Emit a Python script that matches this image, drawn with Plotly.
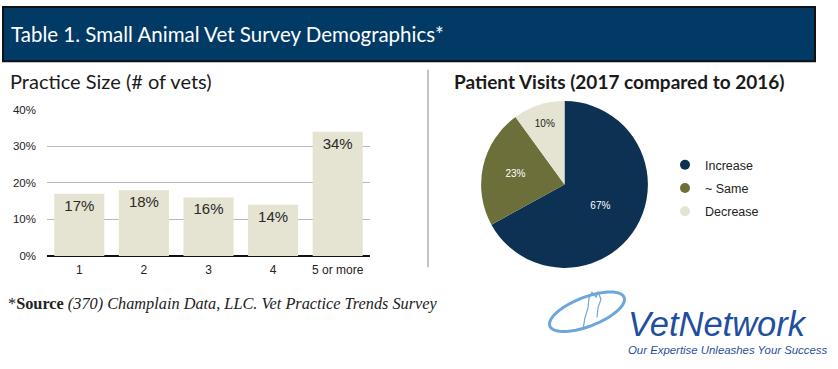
import numpy as np
import plotly.graph_objects as go

W, H = 838, 369

# ---- data ----
size_categories = ["1", "2", "3", "4", "5 or more"]
size_values = [17, 18, 16, 14, 34]
size_labels = ["17%", "18%", "16%", "14%", "34%"]
y_ticks = [0, 10, 20, 30, 40]
y_tick_labels = ["0%", "10%", "20%", "30%", "40%"]

visit_labels = ["Increase", "~ Same", "Decrease"]
visit_values = [67, 23, 10]

title_text = "Table 1. Small Animal Vet Survey Demographics*"
left_title = "Practice Size (# of vets)"
right_title = "Patient Visits (2017 compared to 2016)"

NAVY = "#0c3152"
OLIVE = "#6c6f3a"
BEIGE = "#e5e3d1"
HEADER = "#023a66"
LOGO_BLUE = "#1f4f9f"


def px(x):
    return x / W


def py(y):
    return 1 - y / H


fig = go.Figure()

fig.add_trace(go.Bar(
    x=size_categories, y=size_values, text=size_labels,
    textposition="inside", insidetextanchor="end",
    textfont=dict(size=15, color="#2a2a2a", family="Liberation Sans, Arial"),
    marker=dict(color=BEIGE, line=dict(width=0)),
    showlegend=False, hoverinfo="skip", xaxis="x", yaxis="y",
))

fig.add_trace(go.Pie(
    labels=visit_labels, values=visit_values, sort=False, direction="clockwise",
    rotation=0, textinfo="percent", texttemplate="%{percent:.0%}",
    textposition="inside", insidetextorientation="horizontal",
    textfont=dict(size=10, color=["white", "white", "#222222"], family="Liberation Sans, Arial"),
    marker=dict(colors=[NAVY, OLIVE, BEIGE], line=dict(width=0)),
    domain=dict(x=[px(478.5), px(650.5)], y=[py(270.7), py(98.3)]),
    showlegend=False, hoverinfo="skip",
))

# legend entries as circle markers
for lab, col in zip(visit_labels, [NAVY, OLIVE, BEIGE]):
    fig.add_trace(go.Scatter(
        x=[None], y=[None], mode="markers", name=lab, legendgroup=lab,
        marker=dict(color=col, size=10, symbol="circle"),
        xaxis="x2", yaxis="y2", showlegend=True,
    ))

shapes = [
    dict(type="rect", xref="paper", yref="paper",
         x0=px(3), x1=px(815), y0=py(57), y1=py(1),
         fillcolor=HEADER, line=dict(color="#111111", width=2), layer="below"),
    dict(type="line", xref="paper", yref="paper",
         x0=px(428), x1=px(428), y0=py(270), y1=py(66),
         line=dict(color="#c4c4c4", width=2)),
]

# logo swoosh (tilted ellipse)
t = np.linspace(0, 2 * np.pi, 60)
cx, cy, a, b, ang = 587, 316, 40, 15, np.deg2rad(-22)
ex = cx + a * np.cos(t) * np.cos(ang) - b * np.sin(t) * np.sin(ang)
ey = cy + a * np.cos(t) * np.sin(ang) + b * np.sin(t) * np.cos(ang)
path = "M " + " L ".join(f"{px(x):.5f},{py(y):.5f}" for x, y in zip(ex, ey)) + " Z"
shapes.append(dict(type="path", xref="paper", yref="paper", path=path,
                   line=dict(color="#6fa6da", width=3)))
cat = [(583, 334), (585, 322), (588, 312), (589, 302), (592, 296), (596, 301), (598, 296), (601, 303), (598, 312), (597, 322)]
cpath = "M " + " L ".join(f"{px(x):.5f},{py(y):.5f}" for x, y in cat)
shapes.append(dict(type="path", xref="paper", yref="paper", path=cpath,
                   line=dict(color="#6fa6da", width=1.2)))

annotations = [
    dict(text=title_text, x=px(9), y=py(29), xref="paper", yref="paper",
         xanchor="left", yanchor="middle", showarrow=False,
         font=dict(family="Lato", size=20.5, color="white")),
    dict(text=left_title, x=px(8), y=py(78), xref="paper", yref="paper",
         xanchor="left", yanchor="middle", showarrow=False,
         font=dict(family="Lato", size=20, color="#1a1a1a")),
    dict(text="<b>" + right_title + "</b>", x=px(452), y=py(78), xref="paper", yref="paper",
         xanchor="left", yanchor="middle", showarrow=False,
         font=dict(family="Lato", size=19, color="#1a1a1a")),
    dict(text="*<b>Source</b> <i>(370) Champlain Data, LLC. Vet Practice Trends Survey</i>",
         x=px(6), y=py(307), xref="paper", yref="paper",
         xanchor="left", yanchor="middle", showarrow=False,
         font=dict(family="Liberation Serif", size=16.3, color="#222222")),
    dict(text="<i>VetNetwork</i>", x=px(626), y=py(329), xref="paper", yref="paper",
         xanchor="left", yanchor="middle", showarrow=False,
         font=dict(family="Liberation Sans, Arial", size=34.5, color=LOGO_BLUE)),
    dict(text="<i>Our Expertise Unleashes Your Success</i>", x=px(626), y=py(356),
         xref="paper", yref="paper", xanchor="left", yanchor="middle", showarrow=False,
         font=dict(family="Liberation Sans, Arial", size=11.4, color=LOGO_BLUE)),
]

fig.update_layout(
    width=W, height=H, margin=dict(l=0, r=0, t=0, b=0),
    paper_bgcolor="white", plot_bgcolor="white",
    bargap=0.225,
    xaxis=dict(domain=[px(47), px(370)], showgrid=False, ticks="", showline=False,
               ticklabelstandoff=5,
               tickfont=dict(family="Liberation Sans, Arial", size=12, color="#222222"),
               fixedrange=True),
    yaxis=dict(domain=[py(258.3), py(107.3)], range=[0, 40], tickvals=y_ticks,
               ticktext=y_tick_labels, showgrid=True, gridcolor="#b8b8b8", gridwidth=1,
               zeroline=True, zerolinecolor="#111111", zerolinewidth=1.5,
               showline=False, ticks="", ticklabelstandoff=10,
               tickfont=dict(family="Liberation Sans, Arial", size=11.5, color="#222222")),
    xaxis2=dict(domain=[0.99, 1.0], visible=False),
    yaxis2=dict(domain=[0.0, 0.01], visible=False),
    legend=dict(x=px(665), y=py(149), xanchor="left", yanchor="top", itemwidth=30,
                font=dict(family="Liberation Sans, Arial", size=12.5, color="#222222"),
                tracegroupgap=4, bgcolor="rgba(0,0,0,0)"),
    shapes=shapes, annotations=annotations,
)

fig.write_html("out.html", config={"displayModeBar": False},
               post_script="document.body.style.margin='0px';")
